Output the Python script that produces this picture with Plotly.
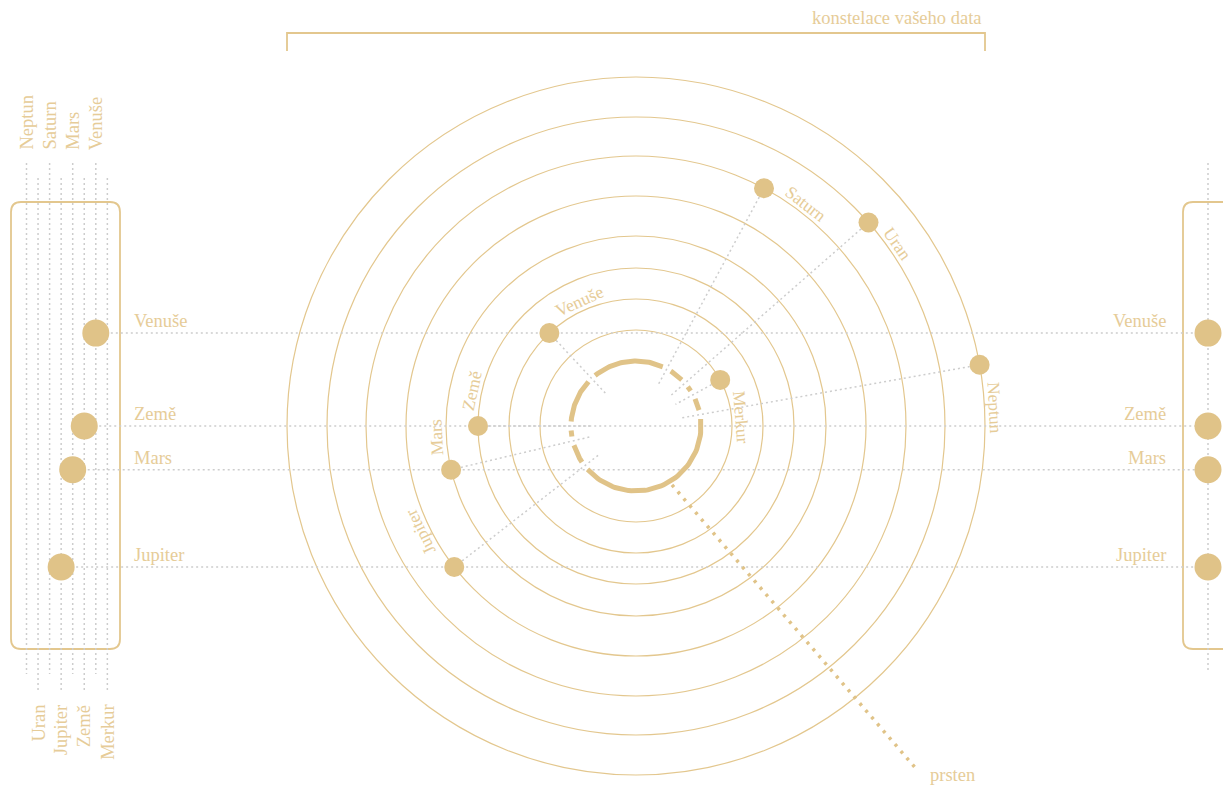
import numpy as np
import plotly.graph_objects as go

# ---------------- data ----------------
planets = ["Merkur", "Venuše", "Země", "Mars", "Jupiter", "Saturn", "Uran", "Neptun"]
orbit_r = [96, 127, 158, 190, 230, 270, 309, 349]          # orbit radius (px scale units)
angle_deg = [28.7, 133.0, 180.0, 193.3, 217.8, 61.7, 41.2, 10.1]  # position on orbit
column_order = ["Neptun", "Uran", "Saturn", "Jupiter", "Mars", "Země", "Venuše", "Merkur"]
title_text = "konstelace vašeho data"
ring_label = "prsten"

# ---------------- style / layout ----------------
W, H = 1223, 787
CX, CY = 636, 426
GOLD = "#e0c388"
GOLD_LINE = "#e3c78e"
TEXT = "#e6cc98"
GREY = "#cdcdcd"
FONT = "Liberation Serif"
FS = 18.5
DOT = "2px,3px"

fig = go.Figure()
shapes = []
ann = []


def pos(r, a):
    t = np.radians(a)
    return CX + r * np.cos(t), CY - r * np.sin(t)


def line(xs, ys, color=GREY, width=1.5, dash=DOT):
    fig.add_trace(go.Scatter(x=xs, y=ys, mode="lines", hoverinfo="skip",
                             line=dict(color=color, width=width, dash=dash)))


def rrect(x0, y0, x1, y1, r):
    return (f"M {x0+r} {y0} L {x1-r} {y0} Q {x1} {y0} {x1} {y0+r} L {x1} {y1-r} "
            f"Q {x1} {y1} {x1-r} {y1} L {x0+r} {y1} Q {x0} {y1} {x0} {y1-r} "
            f"L {x0} {y0+r} Q {x0} {y0} {x0+r} {y0} Z")


# orbits
for r in orbit_r:
    shapes.append(dict(type="circle", xref="x", yref="y", x0=CX - r, x1=CX + r,
                       y0=CY - r, y1=CY + r, line=dict(color=GOLD_LINE, width=1.2),
                       layer="below"))

# panels
shapes.append(dict(type="path", path=rrect(11, 202, 120, 649, 10),
                   line=dict(color=GOLD_LINE, width=1.8), layer="below"))
shapes.append(dict(type="path", path=rrect(1183, 202, 1260, 649, 10),
                   line=dict(color=GOLD_LINE, width=1.8), layer="below"))
# top bracket
shapes.append(dict(type="path", path="M 287 51 L 287 33 L 985 33 L 985 51",
                   line=dict(color=GOLD_LINE, width=1.8), layer="below"))
ann.append(dict(x=984, y=18, text=title_text, showarrow=False, xanchor="right",
                yanchor="middle", font=dict(family=FONT, size=FS, color=TEXT)))

# left columns
col_x = {name: 26.5 + i * 11.55 for i, name in enumerate(column_order)}
for i, name in enumerate(column_order):
    x = col_x[name]
    if i % 2 == 0:
        line([x, x], [163, 674])
        ann.append(dict(x=x, y=152, text=name, textangle=-90, showarrow=False,
                        xanchor="center", yanchor="bottom",
                        font=dict(family=FONT, size=FS, color=TEXT)))
    else:
        line([x, x], [178, 691])
        ann.append(dict(x=x, y=703, text=name, textangle=-90, showarrow=False,
                        xanchor="center", yanchor="top",
                        font=dict(family=FONT, size=FS, color=TEXT)))
# right column
line([1208, 1208], [163, 672])

# planet positions
px, py = [], []
for r, a in zip(orbit_r, angle_deg):
    x, y = pos(r, a)
    px.append(x)
    py.append(y)

# horizontal lines for planets on the left half + side circles
side_x, side_y = [], []
for name, x, y, a in zip(planets, px, py, angle_deg):
    if np.cos(np.radians(a)) < 0:
        line([col_x[name], 1208], [y, y])
        side_x += [col_x[name], 1208]
        side_y += [y, y]
        ann.append(dict(x=132, y=y - 12, text=name, showarrow=False, xanchor="left",
                        yanchor="middle", font=dict(family=FONT, size=FS, color=TEXT)))
        ann.append(dict(x=1168, y=y - 12, text=name, showarrow=False, xanchor="right",
                        yanchor="middle", font=dict(family=FONT, size=FS, color=TEXT)))

# radial dotted lines from planets toward center
for r, a in zip(orbit_r, angle_deg):
    x0, y0 = pos(r, a)
    x1, y1 = pos(45, a)
    line([x0, x1], [y0, y1])

# dashed central ring with gaps at planet angles
gaps = sorted([a % 360 for a in angle_deg])
half = 4.0
RING_R = 65
for i, g in enumerate(gaps):
    start = g + half
    end = gaps[(i + 1) % len(gaps)] - half
    if end <= start:
        end += 360
    t = np.linspace(start, end, 60)
    xs, ys = pos(RING_R, t)
    fig.add_trace(go.Scatter(x=xs, y=ys, mode="lines", hoverinfo="skip",
                             line=dict(color=GOLD, width=5)))

# prsten leader
sx, sy = pos(69, -58.6)
line([sx, 918], [sy, 771], color=GOLD, width=3.5, dash="3px,6px")
ann.append(dict(x=928, y=775, text=ring_label, showarrow=False, xanchor="left",
                yanchor="middle", font=dict(family=FONT, size=FS, color=TEXT)))

# planets on orbits
fig.add_trace(go.Scatter(x=px, y=py, mode="markers", hoverinfo="skip",
                         marker=dict(size=20, color=GOLD, line=dict(width=0))))
fig.add_trace(go.Scatter(x=side_x, y=side_y, mode="markers", hoverinfo="skip",
                         marker=dict(size=27, color=GOLD, line=dict(width=0))))

# orbit labels following the orbit clockwise
for name, r, a in zip(planets, orbit_r, angle_deg):
    rl = r + 10
    off = (17 + 4.6 * len(name)) / rl
    th = np.radians(a) - off
    x, y = CX + rl * np.cos(th), CY - rl * np.sin(th)
    ta = 90 - np.degrees(th)
    ta = (ta + 180) % 360 - 180
    ann.append(dict(x=x, y=y, text=name, textangle=ta, showarrow=False,
                    xanchor="center", yanchor="middle",
                    font=dict(family=FONT, size=17.5, color=TEXT)))

fig.update_layout(
    width=W, height=H, margin=dict(l=0, r=0, t=0, b=0),
    paper_bgcolor="white", plot_bgcolor="white", showlegend=False,
    xaxis=dict(range=[0, W], visible=False, fixedrange=True),
    yaxis=dict(range=[H, 0], visible=False, fixedrange=True),
    shapes=shapes, annotations=ann,
)
fig.write_html("out.html", config={"displayModeBar": False},
               post_script="document.body.style.margin='0';document.body.style.overflow='hidden';")
